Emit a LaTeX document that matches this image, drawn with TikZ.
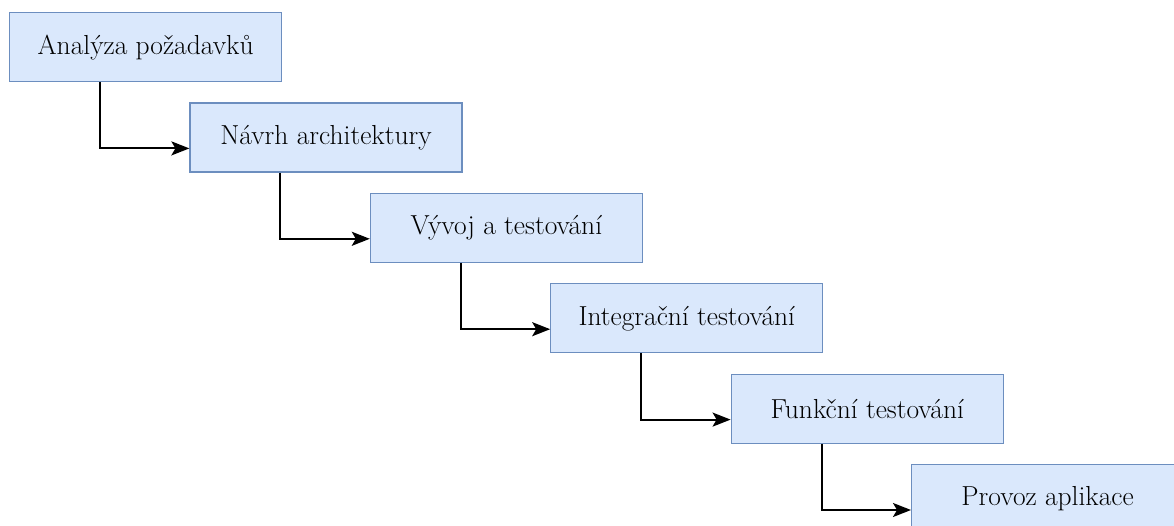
\documentclass[tikz,border=0pt]{standalone}
\usepackage{fontspec}
\usetikzlibrary{arrows.meta,calc}
\definecolor{boxfill}{HTML}{DAE8FC}
\definecolor{boxdraw}{HTML}{6C8EBF}
\tikzset{
  stage/.style={draw=boxdraw, fill=boxfill, line width=1.2pt, minimum width=272pt, minimum height=69pt, inner sep=0pt, anchor=north west, font=\fontsize{27.5}{30}\selectfont, text=black},
  flow/.style={draw=black, line width=2pt, -{Stealth[length=18pt,width=14pt,inset=4pt]}}
}
\begin{document}
\begin{tikzpicture}[x=1pt,y=-1pt]
\useasboundingbox (0,0) rectangle (1174,526);
\clip (0,0) rectangle (1174,526);
\node[stage] (a1) at (9,12) {Analýza požadavků};
\node[stage] (a2) at (189.4,102.4) {Návrh architektury};
\node[stage] (a3) at (369.8,192.8) {Vývoj a testování};
\node[stage] (a4) at (550.2,283.2) {Integrační testování};
\node[stage] (a5) at (730.6,373.6) {Funkční testování};
\node[stage] (a6) at (911,464) {Provoz aplikace};
\foreach \i/\j in {a1/a2,a2/a3,a3/a4,a4/a5,a5/a6}{
  \draw[flow] ($(\i.south west)+(91,0)$) |- ($(\j.north west)+(0,46)$);
}
\end{tikzpicture}
\end{document}
